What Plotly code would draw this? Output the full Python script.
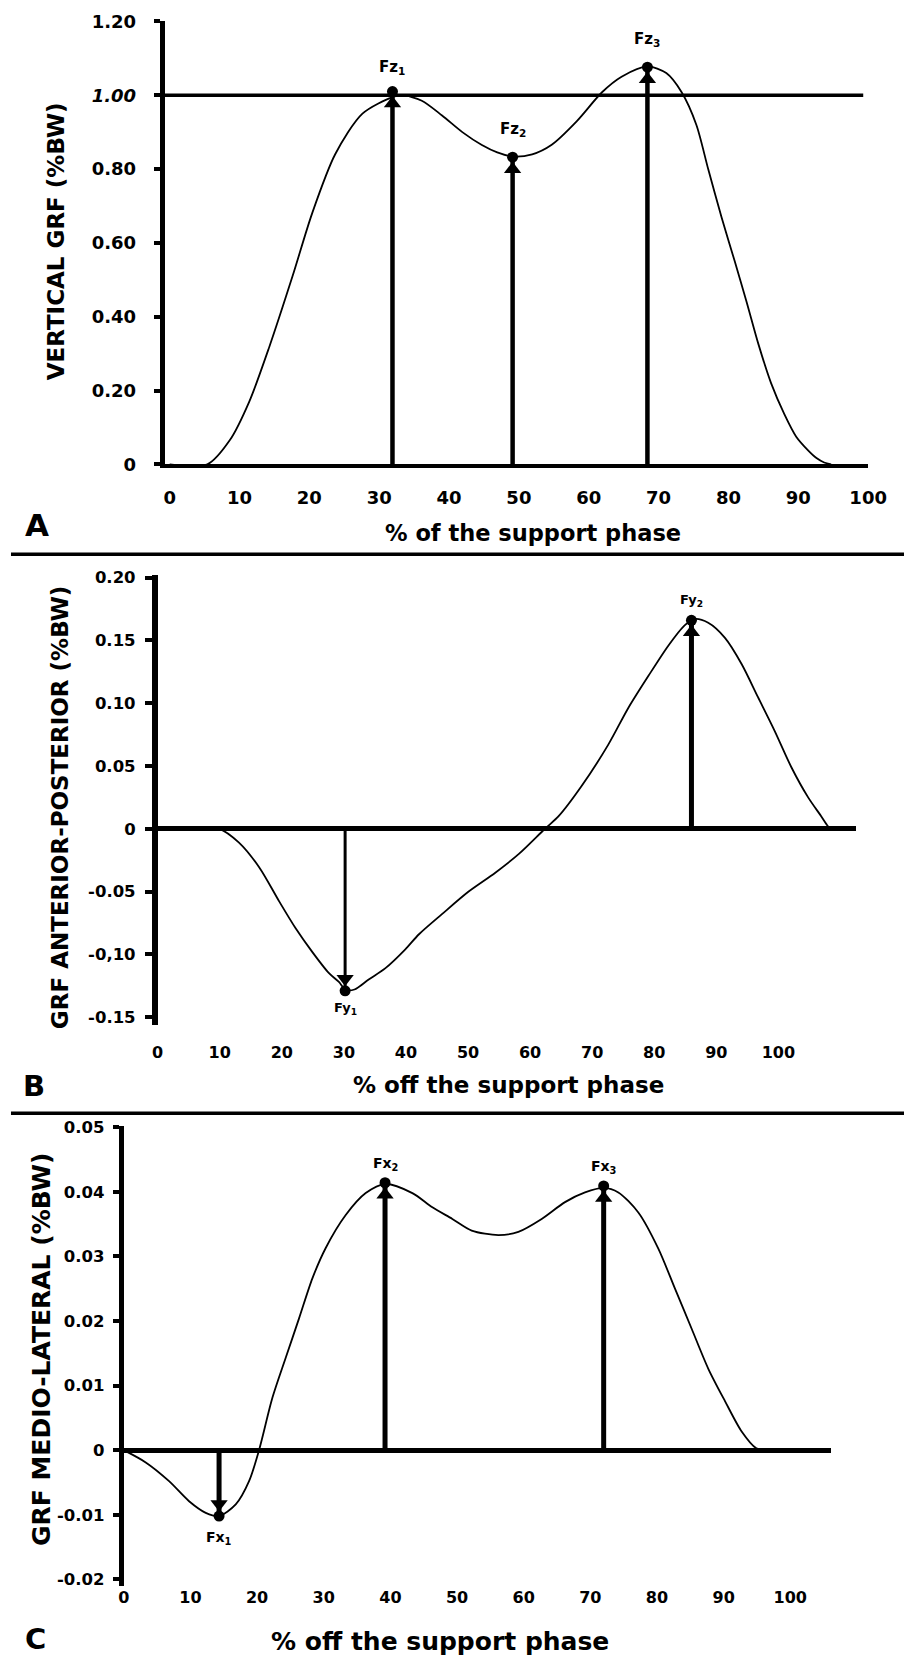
import plotly.graph_objects as go

# ---------------- data ----------------
# Panel A : vertical GRF
a_x = [0, 5.4, 8.6, 11.4, 14.3, 17.6, 20.4, 23.7, 27.6, 31.9, 33.3, 36.1, 39.0, 41.9, 44.7, 46.9,
       49.1, 51.9, 54.7, 58.3, 61.9, 64.7, 68.4, 71.1, 73.3, 75.4, 77.1, 79.0, 80.9, 82.6, 84.3,
       86.1, 88.0, 89.7, 91.4, 92.6, 93.7, 94.7]
a_y = [0, 0, 0.065, 0.17, 0.32, 0.51, 0.68, 0.84, 0.95, 0.995, 1.0, 0.985, 0.945, 0.90,
       0.865, 0.845, 0.834, 0.84, 0.866, 0.93, 1.008, 1.05, 1.078, 1.06, 1.008, 0.92, 0.80, 0.67,
       0.55, 0.44, 0.325, 0.22, 0.136, 0.075, 0.038, 0.017, 0.005, 0]
fz_x = [31.9, 49.1, 68.4]
fz_y = [1.01, 0.832, 1.076]
fz_names = ["Fz<sub>1</sub>", "Fz<sub>2</sub>", "Fz<sub>3</sub>"]
bw_level = [1.0]
a_ytick_vals = [0, 0.2, 0.4, 0.6, 0.8, 1.0, 1.2]
a_ytick_text = ["0", "0.20", "0.40", "0.60", "0.80", "<i>1.00</i>", "1.20"]

# Panel B : anterior-posterior GRF
b_x = [0, 9.9, 13.1, 16.4, 19.6, 22.2, 24.9, 27.6, 29.2, 30.2, 31.7, 34.0, 36.7, 39.9, 42.1,
       45.8, 50.1, 54.4, 58.2, 62.4, 64.6, 68.3, 72.6, 75.8, 79.1, 82.3, 84.9, 86.5, 88.7, 91.4,
       94.1, 96.7, 99.4, 102.1, 104.8, 106.9, 108.0, 108.5]
b_y = [0, 0, -0.011, -0.031, -0.058, -0.079, -0.098, -0.115, -0.122, -0.128, -0.128, -0.120,
       -0.111, -0.096, -0.084, -0.068, -0.050, -0.035, -0.020, 0.0, 0.010, 0.034, 0.067, 0.096,
       0.122, 0.146, 0.162, 0.167, 0.164, 0.152, 0.131, 0.105, 0.078, 0.049, 0.025, 0.010,
       0.002, 0.0]
fy_x = [30.2, 86.0]
fy_y = [-0.129, 0.166]
fy_names = ["Fy<sub>1</sub>", "Fy<sub>2</sub>"]
b_ytick_vals = [-0.15, -0.10, -0.05, 0, 0.05, 0.10, 0.15, 0.20]
b_ytick_text = ["-0.15", "-0,10", "-0.05", "0", "0.05", "0.10", "0.15", "0.20"]

# Panel C : medio-lateral GRF
c_x = [0, 3.3, 6.8, 9.8, 12.3, 14.3, 16.8, 18.8, 20.3, 22.3, 24.3, 26.3, 28.3, 30.3, 33.3,
       36.3, 39.2, 43.3, 46.3, 49.3, 52.2, 56.2, 59.2, 62.7, 66.2, 69.2, 72.0, 74.2, 77.2, 80.2,
       82.7, 85.2, 87.7, 90.2, 92.7, 94.9, 96.4]
c_y = [0, -0.0019, -0.0048, -0.0079, -0.0097, -0.0102, -0.0084, -0.0048, 0.0, 0.0081, 0.0143,
       0.0204, 0.0266, 0.0313, 0.0364, 0.0398, 0.0412, 0.0398, 0.0376, 0.0358, 0.0340, 0.0333,
       0.0338, 0.0358, 0.0384, 0.0399, 0.0406, 0.0399, 0.0368, 0.0312, 0.0250, 0.0188, 0.0126,
       0.0076, 0.0029, 0.0003, 0.0]
fx_x = [14.3, 39.2, 72.0]
fx_y = [-0.0102, 0.0414, 0.0409]
fx_names = ["Fx<sub>1</sub>", "Fx<sub>2</sub>", "Fx<sub>3</sub>"]
c_ytick_vals = [-0.02, -0.01, 0, 0.01, 0.02, 0.03, 0.04, 0.05]
c_ytick_text = ["-0.02", "-0.01", "0", "0.01", "0.02", "0.03", "0.04", "0.05"]

x_ticks = [0, 10, 20, 30, 40, 50, 60, 70, 80, 90, 100]

# ---------------- figure ----------------
W, H = 923, 1659
FONT = "DejaVu Sans"


def px(x):
    # target picture position -> paper fraction (small empirical stretch)
    return ((x - 3) / 0.975) / W


def py(y):
    return 1 - ((y - 9.6) / 0.9875) / H


fig = go.Figure()

panels = [
    ("x", "y", a_x, a_y, fz_x, fz_y, fz_names),
    ("x2", "y2", b_x, b_y, fy_x, fy_y, fy_names),
    ("x3", "y3", c_x, c_y, fx_x, fx_y, fx_names),
]
label_shift = {"x": [24, 28, 28], "x2": [-18, 20], "x3": [-22, 19, 19]}
label_size = {"x": 15, "x2": 13, "x3": 14}
shaft_width = {"x": [4.5, 4.5, 4.5], "x2": [3, 5], "x3": [5, 5, 5]}

for xr, yr, xs, ys, kx, ky, names in panels:
    fig.add_trace(go.Scatter(x=xs, y=ys, xaxis=xr, yaxis=yr, mode="lines",
                             line=dict(color="black", width=1.8, shape="spline", smoothing=0.8),
                             hoverinfo="skip"))
    for i, (vx, vy, nm) in enumerate(zip(kx, ky, names)):
        # arrow shaft from the zero line to the peak
        fig.add_trace(go.Scatter(x=[vx, vx], y=[0, vy], xaxis=xr, yaxis=yr, mode="lines",
                                 line=dict(color="black", width=shaft_width[xr][i]),
                                 hoverinfo="skip", cliponaxis=False))
        fig.add_annotation(x=vx, y=vy, xref=xr, yref=yr, text="<b>" + nm + "</b>",
                           showarrow=False, yshift=label_shift[xr][i],
                           font=dict(family=FONT, size=label_size[xr], color="black"))
    # arrowheads pointing at each peak
    fig.add_trace(go.Scatter(x=kx, y=ky, xaxis=xr, yaxis=yr, mode="markers",
                             marker=dict(symbol="triangle-up", size=15, opacity=1,
                                         angle=[0 if v > 0 else 180 for v in ky],
                                         standoff=12, color="#000000",
                                         line=dict(width=0)),
                             hoverinfo="skip", cliponaxis=False))
    fig.add_trace(go.Scatter(x=kx, y=ky, xaxis=xr, yaxis=yr, mode="markers",
                             marker=dict(color="#000000", size=11, symbol="circle", opacity=1),
                             hoverinfo="skip", cliponaxis=False))

# reference 1.0 BW line in panel A
for lvl in bw_level:
    fig.add_shape(type="line", xref="x domain", yref="y", x0=0, x1=0.993, y0=lvl, y1=lvl,
                  line=dict(color="black", width=3.5))

common_x = dict(showgrid=False, zeroline=False, ticks="", tickmode="array", tickvals=x_ticks,
                ticktext=[str(t) for t in x_ticks], color="black")
common_y = dict(showgrid=False, showline=True, linecolor="black", ticks="outside",
                tickcolor="black", tickmode="array", color="black")

fig.update_layout(
    width=W, height=H, margin=dict(l=0, r=0, t=0, b=0),
    paper_bgcolor="white", plot_bgcolor="white", showlegend=False,
    xaxis=dict(**common_x, domain=[px(162), px(867)], range=[-0.714, 100.0], anchor="y",
               showline=True, linecolor="black", linewidth=4, ticklabelstandoff=14,
               tickfont=dict(family=FONT, size=18, weight="bold")),
    yaxis=dict(**common_y, domain=[py(463), py(20)], range=[0, 1.2], anchor="x",
               tickvals=a_ytick_vals, ticktext=a_ytick_text, linewidth=5, ticklen=6, tickwidth=4,
               zeroline=False, ticklabelstandoff=14,
               tickfont=dict(family=FONT, size=18, weight="bold")),
    xaxis2=dict(**common_x, domain=[px(155), px(855)], range=[0, 112.54], anchor="y2",
                showline=False, ticklabelstandoff=16,
                tickfont=dict(family=FONT, size=16, weight="bold")),
    yaxis2=dict(**common_y, domain=[py(1023.5), py(574)], range=[-0.15605, 0.20183], anchor="x2",
                tickvals=b_ytick_vals, ticktext=b_ytick_text, linewidth=5.5, ticklen=7, tickwidth=4,
                zeroline=True, zerolinecolor="black", zerolinewidth=4.5, ticklabelstandoff=6,
                tickfont=dict(family=FONT, size=16.5, weight="bold")),
    xaxis3=dict(**common_x, domain=[px(121), px(830)], range=[0, 106.14], anchor="y3",
                showline=False, ticklabelstandoff=0,
                tickfont=dict(family=FONT, size=16, weight="bold")),
    yaxis3=dict(**common_y, domain=[py(1585), py(1125)], range=[-0.02105, 0.05015], anchor="x3",
                tickvals=c_ytick_vals, ticktext=c_ytick_text, linewidth=5, ticklen=6, tickwidth=4,
                zeroline=True, zerolinecolor="black", zerolinewidth=5, ticklabelstandoff=5,
                tickfont=dict(family=FONT, size=16.5, weight="bold")),
)

texts = [
    ("VERTICAL GRF (%BW)", 53, 240, 23, -90),
    ("GRF ANTERIOR-POSTERIOR (%BW)", 57, 806, 23, -90),
    ("GRF MEDIO-LATERAL (%BW)", 38, 1348, 25, -90),
    ("% of the support phase", 531, 532, 22.5, 0),
    ("% off the support phase", 507, 1084, 23, 0),
    ("% off the support phase", 438, 1640, 25, 0),
    ("A", 34, 524, 31, 0),
    ("B", 31, 1085, 29, 0),
    ("C", 33, 1638, 29, 0),
]
for t, x, y, s, ang in texts:
    fig.add_annotation(x=px(x), y=py(y), xref="paper", yref="paper", text="<b>" + t + "</b>",
                       showarrow=False, textangle=ang, xanchor="center", yanchor="middle",
                       font=dict(family=FONT, size=s, color="black"))

for yy in [553, 1112]:
    fig.add_shape(type="line", xref="paper", yref="paper", x0=px(8), x1=1, y0=py(yy), y1=py(yy),
                  line=dict(color="black", width=3.5))

fig.write_html("out.html", config={"displayModeBar": False},
               post_script="document.body.style.margin='0px';")
